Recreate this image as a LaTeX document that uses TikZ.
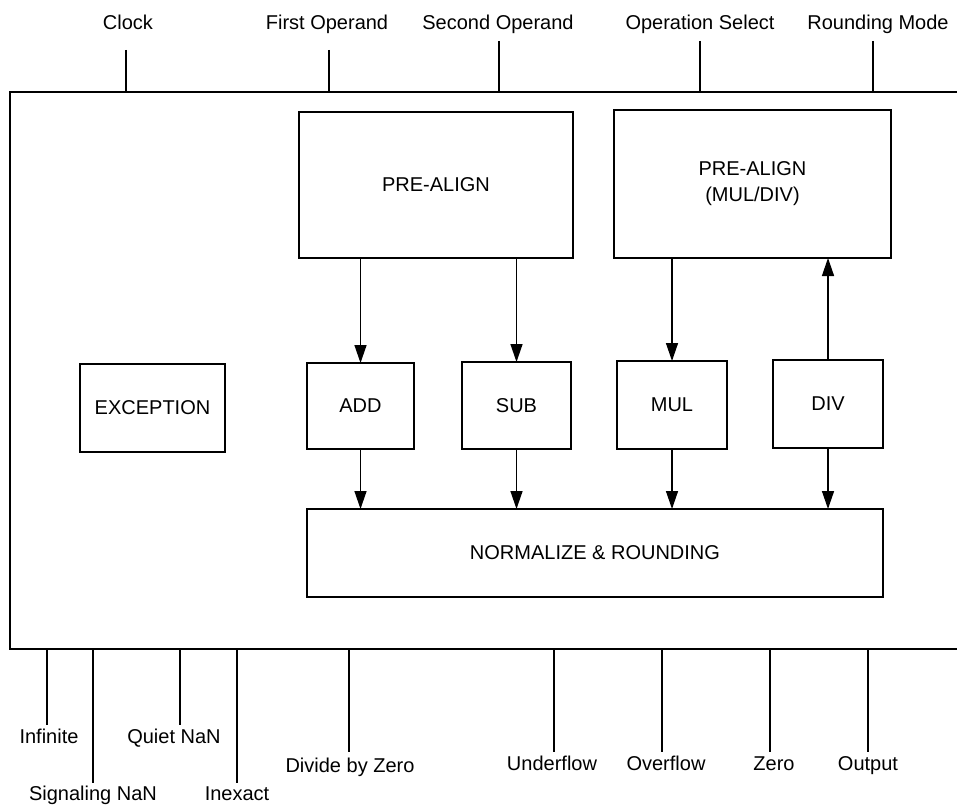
\documentclass[tikz,border=0pt]{standalone}
\usepackage{fontspec}
\setmainfont{Liberation Sans}
\usetikzlibrary{arrows.meta}
\begin{document}
\begin{tikzpicture}[x=1pt,y=-1pt,
  every node/.style={font=\fontsize{20}{26}\selectfont, inner sep=0pt, outer sep=0pt},
  blk/.style={draw, line width=1.1pt, align=center},
  arr/.style={line width=1.4pt, -{Triangle[length=18pt,width=12pt]}},
  sig/.style={line width=1.1pt},
  lbl/.style={anchor=base}]
\useasboundingbox (0,0) rectangle (957,805);

% unit frame (open on the right)
\coordinate (ftr) at (957,92);
\coordinate (ftl) at (10,92);
\coordinate (fbl) at (10,649);
\coordinate (fbr) at (957,649);
\draw[sig] (ftr) -- (ftl) -- (fbl) -- (fbr);

% functional blocks
\node[blk, minimum width=274pt, minimum height=146pt] (pre)  at (436,185) {PRE-ALIGN};
\node[blk, minimum width=277pt, minimum height=148pt] (prem) at (752.5,184) {PRE-ALIGN\\(MUL/DIV)};
\node[blk, minimum width=145pt, minimum height=88pt]  (exc)  at (152.5,408) {EXCEPTION};
\node[blk, minimum width=107pt, minimum height=86pt]  (add)  at (360.5,406) {ADD};
\node[blk, minimum width=109pt, minimum height=87pt]  (sub)  at (516.5,405.5) {SUB};
\node[blk, minimum width=110pt, minimum height=88pt]  (mul)  at (672,405) {MUL};
\node[blk, minimum width=110pt, minimum height=88pt]  (div)  at (828,404) {DIV};
\node[blk, minimum width=576pt, minimum height=88pt]  (norm) at (595,553) {NORMALIZE \& ROUNDING};

% data paths
\draw[arr] (pre.south -| add) -- (add.north);
\draw[arr] (pre.south -| sub) -- (sub.north);
\draw[arr] (prem.south -| mul) -- (mul.north);
\draw[arr] (div.north) -- (prem.south -| div);
\draw[arr] (add.south) -- (norm.north -| add);
\draw[arr] (sub.south) -- (norm.north -| sub);
\draw[arr] (mul.south) -- (norm.north -| mul);
\draw[arr] (div.south) -- (norm.north -| div);

% input signals
\foreach \n/\lx/\x/\y/\t in {clk/128/126/50/Clock,
                            opa/327/329/50/First Operand,
                            opb/498/499/41/Second Operand,
                            osel/700/700/41/Operation Select,
                            rmode/878/873/41/Rounding Mode}{
  \node[lbl] (\n) at (\lx,30) {\t};
  \coordinate (\n-e) at (\x,\y);
  \draw[sig] (\n-e) -- (\n-e |- ftl);
}

% output signals
\foreach \n/\x/\ye/\lx/\ly/\t in {inf/47/725/49/743/Infinite,
                                  snan/93/783/93/800/Signaling NaN,
                                  qnan/180/725/174/743/Quiet NaN,
                                  inex/237/783/237/800/Inexact,
                                  dbz/349/752/350/772/Divide by Zero,
                                  unf/554/752/552/770/Underflow,
                                  ovf/662/752/666/770/Overflow,
                                  zro/770/752/774/770/Zero,
                                  res/868/752/868/770/Output}{
  \coordinate (\n-e) at (\x,\ye);
  \draw[sig] (\n-e |- fbl) -- (\n-e);
  \node[lbl] (\n) at (\lx,\ly) {\t};
}
\end{tikzpicture}
\end{document}
